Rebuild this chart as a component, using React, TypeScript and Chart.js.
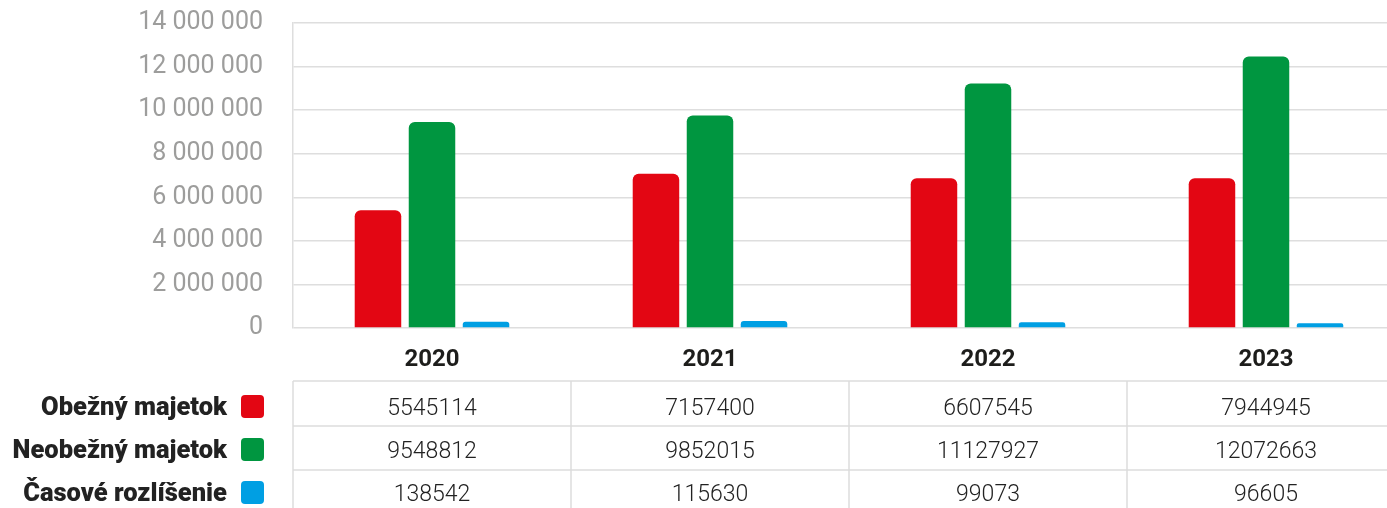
import React, { useEffect, useRef } from 'react';
import { Chart, registerables } from 'chart.js';

Chart.register(...registerables);

// Categories
const years = ['2020', '2021', '2022', '2023'];

// Series names and colours
const seriesNames = ['Obežný majetok', 'Neobežný majetok', 'Časové rozlíšenie'];
const seriesColors = ['#e30613', '#009640', '#009fe3'];

// Bar heights as drawn in the picture
const obeznyBars = [5400000, 7080000, 6870000, 6870000];
const neobeznyBars = [9460000, 9750000, 11220000, 12460000];
const casoveBars = [290000, 320000, 260000, 220000];

// Values printed in the data table
const obeznyTable = ['5545114', '7157400', '6607545', '7944945'];
const neobeznyTable = ['9548812', '9852015', '11127927', '12072663'];
const casoveTable = ['138542', '115630', '99073', '96605'];

// Y axis
const yMax = 14000000;
const yStep = 2000000;

const tableRows = [obeznyTable, neobeznyTable, casoveTable];

const fmt = (v: number) => String(v).replace(/\B(?=(\d{3})+(?!\d))/g, ' ');

const tablePlugin = {
  id: 'dataTable',
  afterDraw(chart: any) {
    const ctx = chart.ctx as CanvasRenderingContext2D;
    const { left, right } = chart.chartArea;
    const n = years.length;
    const colW = (right - left) / n;
    const lineYs = [381, 426, 470];
    const bottom = 520;
    const baselines = [415, 458, 501];
    ctx.save();
    ctx.strokeStyle = '#dddddd';
    ctx.lineWidth = 1.5;
    for (const y of lineYs) {
      ctx.beginPath();
      ctx.moveTo(left, y);
      ctx.lineTo(right, y);
      ctx.stroke();
    }
    for (let i = 0; i <= n; i++) {
      const x = left + i * colW;
      ctx.beginPath();
      ctx.moveTo(x, lineYs[0]);
      ctx.lineTo(x, bottom);
      ctx.stroke();
    }
    tableRows.forEach((row, r) => {
      const b = baselines[r];
      ctx.textBaseline = 'alphabetic';
      ctx.fillStyle = '#222222';
      ctx.font = '300 23px Roboto';
      ctx.textAlign = 'center';
      row.forEach((v, i) => ctx.fillText(v, left + (i + 0.5) * colW, b));
      ctx.font = '900 25.5px Roboto';
      ctx.textAlign = 'right';
      ctx.fillText(seriesNames[r], 227, b);
      ctx.fillStyle = seriesColors[r];
      ctx.beginPath();
      (ctx as any).roundRect(241, b - 20, 23, 23, 4);
      ctx.fill();
    });
    ctx.restore();
  },
};

export default function App() {
  const ref = useRef<HTMLCanvasElement>(null);
  useEffect(() => {
    if (!ref.current) return;
    const chart = new Chart(ref.current, {
      type: 'bar',
      data: {
        labels: years,
        datasets: [
          { label: seriesNames[0], data: obeznyBars, backgroundColor: seriesColors[0] },
          { label: seriesNames[1], data: neobeznyBars, backgroundColor: seriesColors[1] },
          { label: seriesNames[2], data: casoveBars, backgroundColor: seriesColors[2] },
        ],
      },
      options: {
        animation: false,
        responsive: false,
        layout: { padding: { top: 23, left: 0, right: 0, bottom: 0 } },
        datasets: {
          bar: { categoryPercentage: 0.583, barPercentage: 0.861, borderRadius: 6 },
        },
        plugins: { legend: { display: false }, tooltip: { enabled: false } },
        scales: {
          x: {
            grid: { display: false, drawTicks: false },
            border: { display: false },
            ticks: {
              padding: 18,
              color: '#1d1d1b',
              font: { family: 'Roboto', size: 24, weight: 'bold' },
            },
            afterFit: (s: any) => {
              s.height = 180;
            },
          },
          y: {
            min: 0,
            max: yMax,
            ticks: {
              stepSize: yStep,
              padding: 30,
              color: '#9d9d9c',
              font: { family: 'Roboto', size: 25, weight: 400 },
              callback: (v: any) => fmt(Number(v)),
            },
            grid: { color: '#dedede', lineWidth: 1.5, drawTicks: false },
            border: { display: true, color: '#dedede', width: 1.5 },
            afterFit: (s: any) => {
              s.width = 293;
              s.paddingTop = 0;
              s.paddingBottom = 0;
            },
          },
        },
      },
      plugins: [tablePlugin],
    } as any);
    return () => chart.destroy();
  }, []);
  return (
    <div style={{ position: 'fixed', left: 0, top: 0, width: 1387, height: 508, overflow: 'hidden', background: '#fff' }}>
      <canvas ref={ref} width={1405} height={508} style={{ display: 'block' }} />
    </div>
  );
}
